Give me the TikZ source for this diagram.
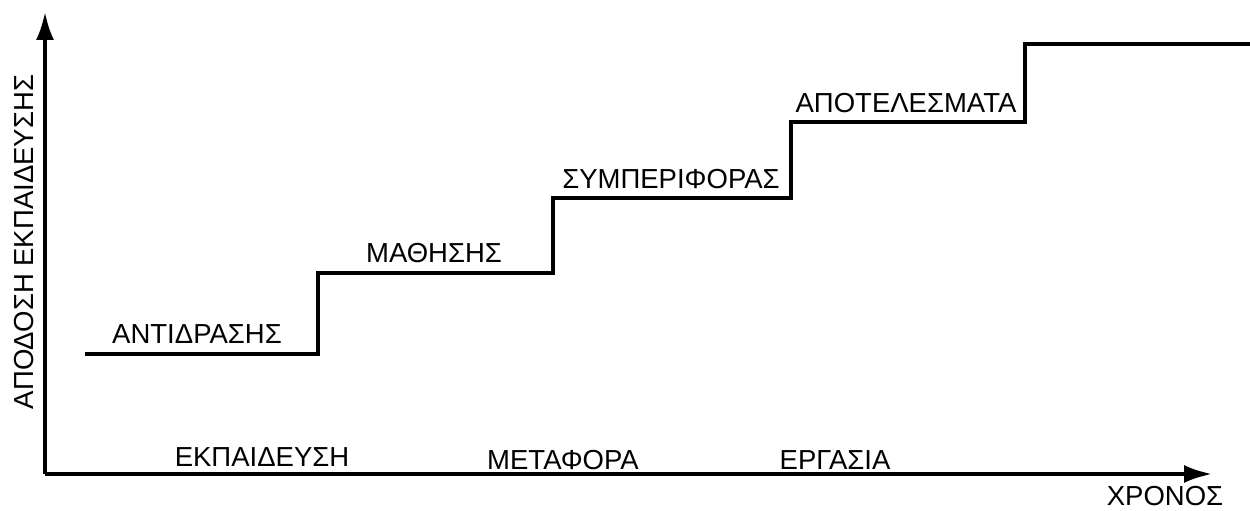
\documentclass[tikz,border=0pt]{standalone}
\usepackage{fontspec}
\setmainfont{Liberation Sans}
\usetikzlibrary{arrows.meta}
\begin{document}
\begin{tikzpicture}[x=1pt,y=-1pt,
  lbl/.style={inner sep=0pt,anchor=base,font=\fontsize{27.5}{28}\selectfont},
  axis/.style={line width=3.5pt,-{Latex[length=28pt,width=18pt]}},
  stair/.style={line width=3.5pt,line join=miter}]
\useasboundingbox (0,0) rectangle (1250,511);

\coordinate (o) at (45,474);
\coordinate (ytip) at (45,12);
\coordinate (xtip) at (1212,474);

\coordinate (s0) at (85,354);
\coordinate (s1) at (318,354);
\coordinate (s2) at (318,273);
\coordinate (s3) at (553,273);
\coordinate (s4) at (553,198);
\coordinate (s5) at (791,198);
\coordinate (s6) at (791,122);
\coordinate (s7) at (1025,122);
\coordinate (s8) at (1025,44);
\coordinate (s9) at (1250,44);

\node[lbl] (antidrasi) at (197,343) {ΑΝΤΙΔΡΑΣΗΣ};
\node[lbl] (mathisi) at (434,262) {ΜΑΘΗΣΗΣ};
\node[lbl] (symperifora) at (671,188) {ΣΥΜΠΕΡΙΦΟΡΑΣ};
\node[lbl] (apotelesmata) at (906,112) {ΑΠΟΤΕΛΕΣΜΑΤΑ};

\node[lbl] (ekpaideusi) at (262,466) {ΕΚΠΑΙΔΕΥΣΗ};
\node[lbl] (metafora) at (563,469) {ΜΕΤΑΦΟΡΑ};
\node[lbl] (ergasia) at (835,469) {ΕΡΓΑΣΙΑ};
\node[lbl] (xronos) at (1165,505) {ΧΡΟΝΟΣ};
\node[lbl,rotate=90] (apodosi) at (33,242) {ΑΠΟΔΟΣΗ ΕΚΠΑΙΔΕΥΣΗΣ};

\draw[axis] (o) -- (ytip);
\draw[axis] (o) -- (xtip);
\draw[stair] (s0) -- (s1) -- (s2) -- (s3) -- (s4) -- (s5) -- (s6) -- (s7) -- (s8) -- (s9);
\end{tikzpicture}
\end{document}
